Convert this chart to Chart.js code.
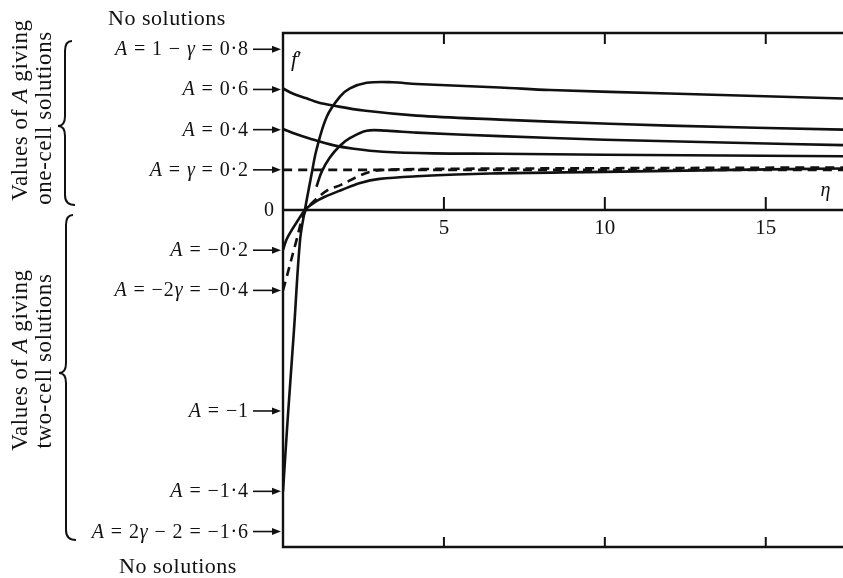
<!DOCTYPE html>
<html>
<head>
<meta charset="utf-8">
<script src="https://cdn.jsdelivr.net/npm/chart.js@4.4.1/dist/chart.umd.min.js"></script>
<style>
  html, body { margin: 0; padding: 0; background: #fff; }
  #wrap { width: 843px; height: 578px; position: relative; }
</style>
</head>
<body>
<div id="wrap"><canvas id="chart"></canvas></div>
<script>
// eta axis
const etaTicks = [5, 10, 15];
const etaMax = 17.4;

// values of A marked on the f' axis (with their labels, * = italic)
const aValues = [0.8, 0.6, 0.4, 0.2, 0, -0.2, -0.4, -1, -1.4, -1.6];
const aLabels = [
  '*A* = 1 − *γ* = 0·8', '*A* = 0·6', '*A* = 0·4', '*A* = *γ* = 0·2', '0',
  '*A* = −0·2', '*A* = −2*γ* = −0·4', '*A* = −1', '*A* = −1·4', '*A* = 2*γ* − 2 = −1·6'
];

// f'(eta) profiles
const etaA06 = [0, 0.3, 0.73, 1.1, 1.55, 2.5, 4.15, 6.74, 8.3, 12, 17.4];
const fA06   = [0.605, 0.58, 0.556, 0.535, 0.52, 0.495, 0.47, 0.45, 0.44, 0.42, 0.40];

const etaA04 = [0, 0.4, 0.8, 1.55, 2.2, 3.1, 4.66, 6.74, 10, 17.4];
const fA04   = [0.403, 0.378, 0.357, 0.323, 0.305, 0.29, 0.282, 0.28, 0.275, 0.268];

const etaGamma = [0, 17.4];
const fGamma   = [0.2, 0.2];

const etaAm02 = [0, 0.1, 0.27, 0.45, 0.68, 1.0, 1.3, 1.82, 2.4, 3.0, 4.15, 6.43, 10, 14, 17.4];
const fAm02   = [-0.2, -0.15, -0.1, -0.055, 0, 0.04, 0.066, 0.1, 0.135, 0.155, 0.168, 0.182, 0.19, 0.2, 0.207];

const etaAm04 = [0, 0.12, 0.37, 0.68, 1.0, 1.4, 1.8, 2.3, 2.7, 3.2, 5, 10, 17.4];
const fAm04   = [-0.4, -0.33, -0.18, -0.01, 0.05, 0.1, 0.125, 0.165, 0.19, 0.2, 0.205, 0.208, 0.212];

const etaAm1 = [1.04, 1.2, 1.45, 1.77, 2.1, 2.6, 3.2, 4.15, 6.74, 10, 14, 17.4];
const fAm1   = [0.116, 0.19, 0.26, 0.32, 0.36, 0.395, 0.395, 0.385, 0.368, 0.35, 0.335, 0.323];

const etaAm14 = [0, 0.15, 0.34, 0.53, 0.68, 0.89, 1.04, 1.36, 1.77, 2.08, 2.6, 3.4, 4.15, 6.74, 8.3, 12, 17.4];
const fAm14   = [-1.4, -1.03, -0.6, -0.15, 0, 0.18, 0.3, 0.464, 0.564, 0.605, 0.633, 0.636, 0.627, 0.61, 0.597, 0.58, 0.555];

const ink = '#111';
const serif = '"Liberation Serif", "DejaVu Serif", serif';

function pts(xs, ys) {
  return xs.map((x, i) => ({ x: x, y: ys[i] }));
}

function curve(xs, ys, dashed) {
  return {
    data: pts(xs, ys),
    borderColor: ink,
    borderWidth: 2.6,
    borderDash: dashed ? [9, 6] : [],
    pointRadius: 0,
    tension: 0.35,
    fill: false
  };
}

// text with *italic* parts
function richText(ctx, str, x, y, size, align, spacing) {
  ctx.letterSpacing = (spacing || 0) + 'px';
  const parts = str.split('*');
  let w = 0;
  parts.forEach((p, i) => {
    ctx.font = (i % 2 ? 'italic ' : '') + size + 'px ' + serif;
    w += ctx.measureText(p).width;
  });
  let cx = align === 'right' ? x - w : align === 'center' ? x - w / 2 : x;
  ctx.textAlign = 'left';
  parts.forEach((p, i) => {
    ctx.font = (i % 2 ? 'italic ' : '') + size + 'px ' + serif;
    ctx.fillText(p, cx, y);
    cx += ctx.measureText(p).width;
  });
  ctx.letterSpacing = '0px';
}

function brace(ctx, x, y1, y2, yTip) {
  const w = 7;
  ctx.beginPath();
  ctx.moveTo(x + w, y1);
  ctx.quadraticCurveTo(x, y1, x, y1 + 10);
  ctx.lineTo(x, yTip - 10);
  ctx.quadraticCurveTo(x, yTip, x - w, yTip);
  ctx.quadraticCurveTo(x, yTip, x, yTip + 10);
  ctx.lineTo(x, y2 - 10);
  ctx.quadraticCurveTo(x, y2, x + w + 3, y2);
  ctx.stroke();
}

const decorations = {
  id: 'decorations',
  afterDatasetsDraw(chart) {
    const ctx = chart.ctx;
    const xs = chart.scales.x;
    const ys = chart.scales.y;
    const a = chart.chartArea;
    ctx.save();
    ctx.strokeStyle = ink;
    ctx.fillStyle = ink;
    ctx.lineCap = 'butt';

    // frame (right side runs off the picture)
    ctx.lineWidth = 2.4;
    ctx.beginPath();
    ctx.moveTo(a.right, a.top);
    ctx.lineTo(a.left, a.top);
    ctx.lineTo(a.left, a.bottom);
    ctx.lineTo(a.right, a.bottom);
    ctx.stroke();

    // eta axis at f' = 0
    const y0 = ys.getPixelForValue(0);
    ctx.beginPath();
    ctx.moveTo(a.left, y0);
    ctx.lineTo(a.right, y0);
    ctx.stroke();

    // ticks
    ctx.lineWidth = 2;
    etaTicks.forEach(t => {
      const px = xs.getPixelForValue(t);
      ctx.beginPath();
      ctx.moveTo(px, a.top); ctx.lineTo(px, a.top + 11);
      ctx.moveTo(px, y0); ctx.lineTo(px, y0 - 13);
      ctx.moveTo(px, a.bottom); ctx.lineTo(px, a.bottom - 10);
      ctx.stroke();
    });

    ctx.textBaseline = 'alphabetic';
    etaTicks.forEach(t => {
      richText(ctx, String(t), xs.getPixelForValue(t), y0 + 24, 21, 'center');
    });

    // A labels with arrows
    aValues.forEach((v, i) => {
      const py = ys.getPixelForValue(v);
      if (v === 0) {
        richText(ctx, aLabels[i], a.left - 9, py + 6, 20, 'right');
        return;
      }
      richText(ctx, aLabels[i], a.left - 34, py + 6, 20, 'right', 0.9);
      ctx.lineWidth = 1.6;
      ctx.beginPath();
      ctx.moveTo(a.left - 30, py);
      ctx.lineTo(a.left - 8, py);
      ctx.stroke();
      ctx.beginPath();
      ctx.moveTo(a.left - 2, py);
      ctx.lineTo(a.left - 11, py - 3.5);
      ctx.lineTo(a.left - 11, py + 3.5);
      ctx.closePath();
      ctx.fill();
    });

    // axis names
    richText(ctx, "*f*′", a.left + 8, a.top + 33, 22, 'left');
    richText(ctx, '*η*', xs.getPixelForValue(16.7), y0 - 14, 20, 'left');

    richText(ctx, 'No solutions', 167, 25, 22, 'center', 0.5);
    richText(ctx, 'No solutions', 178, 573, 22, 'center', 0.5);

    // braces and rotated captions
    ctx.lineWidth = 2;
    brace(ctx, 65, 41, 205, 126);
    brace(ctx, 66, 215, 540, 373);

    const captions = [
      ['Values of *A* giving', 27, 110],
      ['one-cell solutions', 51, 118],
      ['Values of *A* giving', 27, 360],
      ['two-cell solutions', 51, 361]
    ];
    captions.forEach(c => {
      ctx.save();
      ctx.translate(c[1], c[2]);
      ctx.rotate(-Math.PI / 2);
      richText(ctx, c[0], 0, 0, 23, 'center', 0.6);
      ctx.restore();
    });

    ctx.restore();
  }
};

new Chart(document.getElementById('chart').getContext('2d'), {
  type: 'line',
  data: {
    datasets: [
      curve(etaA06, fA06, false),
      curve(etaA04, fA04, false),
      curve(etaGamma, fGamma, true),
      curve(etaAm02, fAm02, false),
      curve(etaAm04, fAm04, true),
      curve(etaAm1, fAm1, false),
      curve(etaAm14, fAm14, false)
    ]
  },
  options: {
    responsive: true,
    maintainAspectRatio: false,
    animation: false,
    layout: { padding: { left: 283, right: 0, top: 33, bottom: 31 } },
    plugins: { legend: { display: false }, tooltip: { enabled: false } },
    scales: {
      x: { type: 'linear', min: 0, max: etaMax, display: false },
      y: { type: 'linear', min: -1.677, max: 0.881, display: false }
    }
  },
  plugins: [decorations]
});
</script>
</body>
</html>
